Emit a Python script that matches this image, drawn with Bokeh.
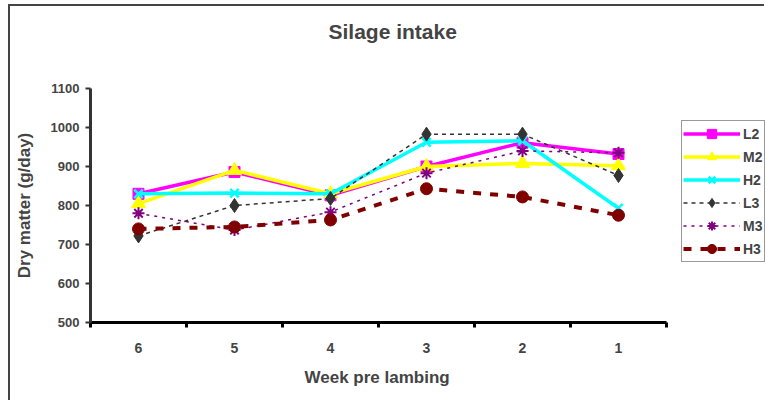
from bokeh.plotting import figure
from bokeh.models import Range1d, FixedTicker, Legend, LegendItem, Title
from bokeh.embed import file_html
from bokeh.resources import INLINE

weeks = [6, 5, 4, 3, 2, 1]
week_boundaries = [6.5, 5.5, 4.5, 3.5, 2.5, 1.5, 0.5]
y_ticks = [500, 600, 700, 800, 900, 1000, 1100]

L2 = [830, 886, 826, 900, 961, 932]
M2 = [805, 890, 830, 900, 908, 902]
H2 = [830, 832, 830, 962, 966, 793]
L3 = [722, 800, 818, 983, 983, 877]
M3 = [780, 737, 783, 883, 940, 935]
H3 = [740, 745, 763, 843, 822, 775]

FONT = "Liberation Sans"

# frame: 576 px for 6 weeks (96 px each), plus 100 px of room on the right for the legend
x_end = 0.5 - 100 / 96

p = figure(width=756, height=396, output_backend="svg", toolbar_location=None, title=None,
           x_range=Range1d(6.5, x_end), y_range=Range1d(500, 1100),
           min_border_left=80, min_border_right=0, min_border_top=82, min_border_bottom=80)
p.styles = {"border-top": "2px solid #444444", "border-left": "2px solid #444444",
            "margin-left": "8px", "margin-top": "4px"}
p.outline_line_color = None
p.xgrid.grid_line_color = None
p.ygrid.grid_line_color = None
p.background_fill_color = "white"
p.border_fill_color = "white"

# spacer between frame and title, then the title itself
p.add_layout(Title(text=" ", text_font_size="12px", standoff=30), "above")
p.add_layout(Title(text="Silage intake", align="left", offset=238, standoff=0,
                   text_font=FONT, text_font_size="21px", text_font_style="bold"), "above")

# x axis
xa = p.xaxis[0]
xa.bounds = (0.5, 6.5)
xa.ticker = FixedTicker(ticks=weeks, minor_ticks=week_boundaries)
xa.axis_line_color = "black"
xa.axis_line_width = 3
xa.major_tick_line_color = None
xa.major_tick_out = 0
xa.major_tick_in = 0
xa.minor_tick_line_color = "black"
xa.minor_tick_line_width = 3
xa.minor_tick_out = 5
xa.minor_tick_in = 0
xa.major_label_text_font = FONT
xa.major_label_text_font_size = "14px"
xa.major_label_text_font_style = "bold"
xa.major_label_standoff = 15

# x axis title, placed under the week labels and centred on the week span
p.add_layout(Title(text="Week pre lambing", align="left", offset=214, standoff=20,
                   text_font=FONT, text_font_size="17px", text_font_style="bold"), "below")

# y axis
ya = p.yaxis[0]
ya.ticker = FixedTicker(ticks=y_ticks)
ya.axis_line_color = "#333333"
ya.axis_line_width = 3
ya.major_tick_line_color = "#333333"
ya.major_tick_line_width = 2
ya.major_tick_out = 5
ya.major_tick_in = 0
ya.minor_tick_line_color = None
ya.major_label_text_font = FONT
ya.major_label_text_font_size = "13px"
ya.major_label_text_font_style = "bold"
ya.major_label_standoff = 6
ya.axis_label = "Dry matter (g/day)"
ya.axis_label_text_font = FONT
ya.axis_label_text_font_size = "17px"
ya.axis_label_text_font_style = "bold"
ya.axis_label_standoff = 14

series = [
    ("L2", L2, "#FF00FF", 3.5, None, "square", 11, 1),
    ("M2", M2, "#FFFF00", 3.5, None, "triangle", 14, 1),
    ("H2", H2, "#00FFFF", 3.5, None, "x", 12, 2.5),
    ("L3", L3, "#333333", 1.5, "4 4", "diamond", 14, 1),
    ("M3", M3, "#800080", 1.5, "3 5", "asterisk", 12, 2),
    ("H3", H3, "#800000", 4, "8 9", "circle", 12, 1),
]

items = []
for name, vals, color, lw, dash, marker, size, mlw in series:
    kw = {}
    if dash:
        kw["line_dash"] = dash
    r1 = p.line(weeks, vals, line_color=color, line_width=lw, **kw)
    r2 = p.scatter(weeks, vals, marker=marker, size=size, fill_color=color,
                   line_color=color, line_width=mlw)
    items.append(LegendItem(label=name, renderers=[r1, r2]))

legend = Legend(items=items, location=(591, 60))
legend.glyph_width = 57
legend.glyph_height = 23
legend.spacing = 0
legend.padding = 1
legend.margin = 0
legend.label_standoff = 3
legend.label_text_font = FONT
legend.label_text_font_size = "14px"
legend.label_text_font_style = "bold"
legend.border_line_color = "#333333"
legend.border_line_width = 1
legend.background_fill_color = "white"
p.add_layout(legend, "center")

open("out.html", "w").write(file_html(p, INLINE))
